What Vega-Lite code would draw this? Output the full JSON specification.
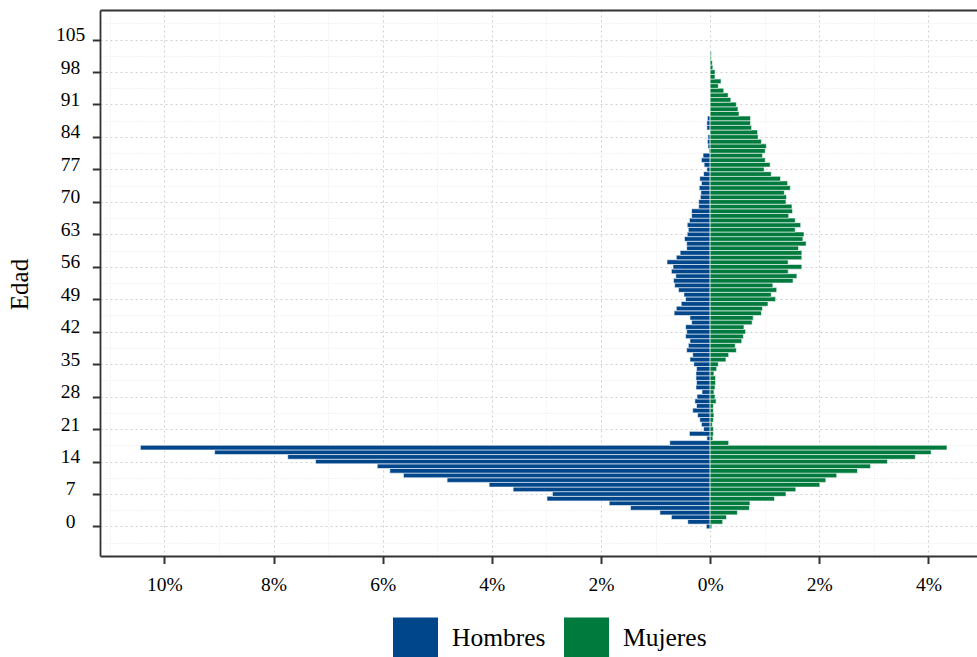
{
  "$schema": "https://vega.github.io/schema/vega-lite/v6.json",
  "width": 877,
  "height": 546,
  "autosize": {"type": "none"},
  "padding": {"left": 100, "top": 10, "right": 0, "bottom": 101},
  "background": "white",
  "config": {
    "font": "Liberation Serif",
    "view": {"stroke": null}
  },
  "data": {
    "values": [
      {"edad": 0, "Hombres": -0.07, "Mujeres": 0.03},
      {"edad": 1, "Hombres": -0.41, "Mujeres": 0.23},
      {"edad": 2, "Hombres": -0.71, "Mujeres": 0.30},
      {"edad": 3, "Hombres": -0.92, "Mujeres": 0.50},
      {"edad": 4, "Hombres": -1.46, "Mujeres": 0.72},
      {"edad": 5, "Hombres": -1.85, "Mujeres": 0.73},
      {"edad": 6, "Hombres": -2.99, "Mujeres": 1.18},
      {"edad": 7, "Hombres": -2.89, "Mujeres": 1.39},
      {"edad": 8, "Hombres": -3.61, "Mujeres": 1.57},
      {"edad": 9, "Hombres": -4.05, "Mujeres": 2.01},
      {"edad": 10, "Hombres": -4.82, "Mujeres": 2.12},
      {"edad": 11, "Hombres": -5.62, "Mujeres": 2.32},
      {"edad": 12, "Hombres": -5.87, "Mujeres": 2.70},
      {"edad": 13, "Hombres": -6.10, "Mujeres": 2.94},
      {"edad": 14, "Hombres": -7.23, "Mujeres": 3.25},
      {"edad": 15, "Hombres": -7.74, "Mujeres": 3.76},
      {"edad": 16, "Hombres": -9.08, "Mujeres": 4.05},
      {"edad": 17, "Hombres": -10.44, "Mujeres": 4.34},
      {"edad": 18, "Hombres": -0.74, "Mujeres": 0.34},
      {"edad": 19, "Hombres": -0.06, "Mujeres": 0.05},
      {"edad": 20, "Hombres": -0.38, "Mujeres": 0.06},
      {"edad": 21, "Hombres": -0.12, "Mujeres": 0.06},
      {"edad": 22, "Hombres": -0.16, "Mujeres": 0.04},
      {"edad": 23, "Hombres": -0.19, "Mujeres": 0.06},
      {"edad": 24, "Hombres": -0.23, "Mujeres": 0.07},
      {"edad": 25, "Hombres": -0.32, "Mujeres": 0.06},
      {"edad": 26, "Hombres": -0.25, "Mujeres": 0.06},
      {"edad": 27, "Hombres": -0.28, "Mujeres": 0.11},
      {"edad": 28, "Hombres": -0.24, "Mujeres": 0.09},
      {"edad": 29, "Hombres": -0.15, "Mujeres": 0.07},
      {"edad": 30, "Hombres": -0.26, "Mujeres": 0.09},
      {"edad": 31, "Hombres": -0.25, "Mujeres": 0.10},
      {"edad": 32, "Hombres": -0.26, "Mujeres": 0.10},
      {"edad": 33, "Hombres": -0.26, "Mujeres": 0.07},
      {"edad": 34, "Hombres": -0.25, "Mujeres": 0.12},
      {"edad": 35, "Hombres": -0.30, "Mujeres": 0.15},
      {"edad": 36, "Hombres": -0.37, "Mujeres": 0.29},
      {"edad": 37, "Hombres": -0.32, "Mujeres": 0.34},
      {"edad": 38, "Hombres": -0.43, "Mujeres": 0.48},
      {"edad": 39, "Hombres": -0.40, "Mujeres": 0.46},
      {"edad": 40, "Hombres": -0.37, "Mujeres": 0.58},
      {"edad": 41, "Hombres": -0.45, "Mujeres": 0.61},
      {"edad": 42, "Hombres": -0.43, "Mujeres": 0.65},
      {"edad": 43, "Hombres": -0.45, "Mujeres": 0.62},
      {"edad": 44, "Hombres": -0.34, "Mujeres": 0.77},
      {"edad": 45, "Hombres": -0.37, "Mujeres": 0.79},
      {"edad": 46, "Hombres": -0.66, "Mujeres": 0.94},
      {"edad": 47, "Hombres": -0.62, "Mujeres": 0.96},
      {"edad": 48, "Hombres": -0.53, "Mujeres": 1.06},
      {"edad": 49, "Hombres": -0.45, "Mujeres": 1.20},
      {"edad": 50, "Hombres": -0.48, "Mujeres": 1.12},
      {"edad": 51, "Hombres": -0.58, "Mujeres": 1.22},
      {"edad": 52, "Hombres": -0.65, "Mujeres": 1.15},
      {"edad": 53, "Hombres": -0.67, "Mujeres": 1.52},
      {"edad": 54, "Hombres": -0.63, "Mujeres": 1.59},
      {"edad": 55, "Hombres": -0.71, "Mujeres": 1.43},
      {"edad": 56, "Hombres": -0.68, "Mujeres": 1.68},
      {"edad": 57, "Hombres": -0.79, "Mujeres": 1.43},
      {"edad": 58, "Hombres": -0.62, "Mujeres": 1.68},
      {"edad": 59, "Hombres": -0.55, "Mujeres": 1.68},
      {"edad": 60, "Hombres": -0.43, "Mujeres": 1.62},
      {"edad": 61, "Hombres": -0.43, "Mujeres": 1.76},
      {"edad": 62, "Hombres": -0.47, "Mujeres": 1.70},
      {"edad": 63, "Hombres": -0.42, "Mujeres": 1.72},
      {"edad": 64, "Hombres": -0.40, "Mujeres": 1.56},
      {"edad": 65, "Hombres": -0.42, "Mujeres": 1.66},
      {"edad": 66, "Hombres": -0.38, "Mujeres": 1.56},
      {"edad": 67, "Hombres": -0.34, "Mujeres": 1.44},
      {"edad": 68, "Hombres": -0.34, "Mujeres": 1.51},
      {"edad": 69, "Hombres": -0.21, "Mujeres": 1.50},
      {"edad": 70, "Hombres": -0.21, "Mujeres": 1.39},
      {"edad": 71, "Hombres": -0.18, "Mujeres": 1.40},
      {"edad": 72, "Hombres": -0.17, "Mujeres": 1.36},
      {"edad": 73, "Hombres": -0.20, "Mujeres": 1.47},
      {"edad": 74, "Hombres": -0.16, "Mujeres": 1.42},
      {"edad": 75, "Hombres": -0.19, "Mujeres": 1.29},
      {"edad": 76, "Hombres": -0.12, "Mujeres": 1.12},
      {"edad": 77, "Hombres": -0.06, "Mujeres": 0.99},
      {"edad": 78, "Hombres": -0.11, "Mujeres": 1.10},
      {"edad": 79, "Hombres": -0.16, "Mujeres": 1.01},
      {"edad": 80, "Hombres": -0.13, "Mujeres": 0.96},
      {"edad": 81, "Hombres": -0.02, "Mujeres": 1.01},
      {"edad": 82, "Hombres": -0.04, "Mujeres": 1.03},
      {"edad": 83, "Hombres": -0.05, "Mujeres": 0.94},
      {"edad": 84, "Hombres": -0.04, "Mujeres": 0.88},
      {"edad": 85, "Hombres": 0, "Mujeres": 0.87},
      {"edad": 86, "Hombres": -0.06, "Mujeres": 0.76},
      {"edad": 87, "Hombres": -0.06, "Mujeres": 0.74},
      {"edad": 88, "Hombres": -0.05, "Mujeres": 0.74},
      {"edad": 89, "Hombres": 0, "Mujeres": 0.53},
      {"edad": 90, "Hombres": 0, "Mujeres": 0.51},
      {"edad": 91, "Hombres": 0, "Mujeres": 0.48},
      {"edad": 92, "Hombres": 0, "Mujeres": 0.38},
      {"edad": 93, "Hombres": 0, "Mujeres": 0.33},
      {"edad": 94, "Hombres": 0, "Mujeres": 0.25},
      {"edad": 95, "Hombres": 0, "Mujeres": 0.15},
      {"edad": 96, "Hombres": 0, "Mujeres": 0.20},
      {"edad": 97, "Hombres": 0, "Mujeres": 0.09},
      {"edad": 98, "Hombres": 0, "Mujeres": 0.09},
      {"edad": 99, "Hombres": 0, "Mujeres": 0.05},
      {"edad": 100, "Hombres": 0, "Mujeres": 0.04},
      {"edad": 101, "Hombres": 0, "Mujeres": 0.02},
      {"edad": 102, "Hombres": 0, "Mujeres": 0.02}
    ]
  },
  "transform": [{"fold": ["Hombres", "Mujeres"], "as": ["sexo", "pct"]}],
  "resolve": {"axis": {"x": "independent"}},
  "layer": [
    {
      "mark": {"type": "bar", "orient": "horizontal", "height": 4.72, "stroke": "white", "strokeWidth": 0.6},
      "encoding": {
        "y": {
          "field": "edad", "type": "quantitative",
          "scale": {"domain": [-5.3, 110.3], "nice": false, "zero": false},
          "axis": {
            "values": [-3.5, 0, 3.5, 7, 10.5, 14, 17.5, 21, 24.5, 28, 31.5, 35, 38.5, 42, 45.5, 49, 52.5, 56, 59.5, 63, 66.5, 70, 73.5, 77, 80.5, 84, 87.5, 91, 94.5, 98, 101.5, 105, 108.5],
            "labelExpr": "datum.value % 7 === 0 ? datum.label : ''",
            "labelFontSize": 19.5, "labelColor": "black", "labelPadding": 22.3,
            "labelAlign": "center", "labelBaseline": "middle", "labelOffset": -5,
            "labelOverlap": false, "labelFlush": false,
            "domain": true, "domainColor": "#333333", "domainWidth": 1.8,
            "tickSize": 7.7, "tickWidth": 2, "tickColor": "#333333",
            "tickOpacity": {"condition": {"test": "datum.value % 7 !== 0", "value": 0}, "value": 1},
            "grid": true,
            "gridColor": {"condition": {"test": "datum.value % 7 !== 0", "value": "#e8e8e8"}, "value": "#d0d0d0"},
            "gridDash": {"condition": {"test": "datum.value % 7 !== 0", "value": [1, 2]}, "value": [2, 3]},
            "gridWidth": 1,
            "title": "Edad", "titleFontSize": 25, "titleFontWeight": "normal", "titleColor": "black",
            "titleX": -73, "titleY": 274, "titleAngle": -90, "titleAlign": "center", "titleBaseline": "alphabetic"
          }
        },
        "x": {
          "field": "pct", "type": "quantitative", "stack": null,
          "scale": {"domain": [-11.18, 4.89], "nice": false},
          "axis": {
            "values": [-11, -10, -9, -8, -7, -6, -5, -4, -3, -2, -1, 0, 1, 2, 3, 4],
            "labelExpr": "datum.value % 2 === 0 ? abs(datum.value) + '%' : ''",
            "labelFontSize": 19.5, "labelColor": "black", "labelPadding": 11.5,
            "labelOverlap": false, "labelFlush": false,
            "domain": true, "domainColor": "#333333", "domainWidth": 1.8,
            "tickSize": 7.5, "tickWidth": 2, "tickColor": "#333333",
            "tickOpacity": {"condition": {"test": "datum.value % 2 !== 0", "value": 0}, "value": 1},
            "grid": true,
            "gridColor": {"condition": {"test": "datum.value % 2 !== 0", "value": "#e8e8e8"}, "value": "#d0d0d0"},
            "gridDash": {"condition": {"test": "datum.value % 2 !== 0", "value": [1, 2]}, "value": [2, 3]},
            "gridWidth": 1,
            "title": null
          }
        },
        "color": {
          "field": "sexo", "type": "nominal",
          "scale": {"domain": ["Hombres", "Mujeres"], "range": ["#00468B", "#007A3D"]},
          "legend": {
            "title": null, "orient": "none", "legendX": 293, "legendY": 605, "direction": "horizontal",
            "symbolType": "M-1,-0.9H1V0.9H-1Z", "symbolSize": 2025, "symbolStrokeWidth": 0, "symbolOpacity": 1,
            "labelFontSize": 25.5, "labelColor": "black", "labelOffset": 14, "columnPadding": 18, "padding": 0
          }
        }
      }
    },
    {
      "mark": {"type": "bar", "orient": "horizontal", "opacity": 0},
      "encoding": {
        "x": {
          "field": "pct", "type": "quantitative", "stack": null,
          "axis": {"orient": "top", "domain": true, "domainColor": "#333333", "domainWidth": 1.8, "ticks": false, "labels": false, "grid": false, "title": null}
        }
      }
    }
  ]
}
